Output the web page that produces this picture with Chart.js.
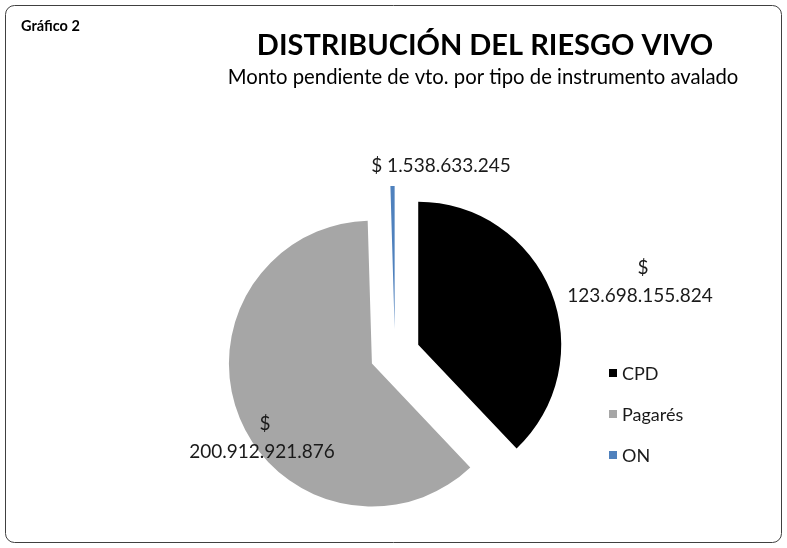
<!DOCTYPE html>
<html>
<head>
<meta charset="utf-8">
<script src="https://cdn.jsdelivr.net/npm/chart.js@4.4.1/dist/chart.umd.min.js"></script>
<style>
  html, body { margin: 0; padding: 0; background: #fff; }
  #wrap { position: relative; width: 787px; height: 548px; }
</style>
</head>
<body>
<div id="wrap"><canvas id="grafico"></canvas></div>
<script>
// datos del gráfico
var categorias = ['CPD', 'Pagarés', 'ON'];
var montos = [123698155824, 200912921876, 1538633245];
var colores = ['#000000', '#A6A6A6', '#4F81BD'];

var titulo = 'DISTRIBUCIÓN DEL RIESGO VIVO';
var subtitulo = 'Monto pendiente de vto. por tipo de instrumento avalado';
var rotulo = 'Gráfico 2';

var FUENTE = 'Lato, "Open Sans", sans-serif';
var SEPARACION = 25; // cuanto se separa cada porcion del centro

function formatoPesos(v) {
	return String(v).replace(/\B(?=(\d{3})+(?!\d))/g, '.');
}

// donde va cada etiqueta (lineas: '$' y el monto)
var posEtiquetas = [
	{ x: 640, y: 268, dos: true },
	{ x: 262, y: 424, dos: true },
	{ x: 441, y: 166, dos: false }
];

// separa las porciones (como el "explode" de excel) sin achicar el angulo
var separar = {
	id: 'separar',
	afterDatasetsUpdate: function(chart) {
		var arcos = chart.getDatasetMeta(0).data;
		arcos.forEach(function(a) {
			var medio = (a.startAngle + a.endAngle) / 2;
			a.x += Math.cos(medio) * SEPARACION;
			a.y += Math.sin(medio) * SEPARACION;
		});
	}
};

var decorado = {
	id: 'decorado',
	afterDraw: function(chart) {
		var ctx = chart.ctx;
		ctx.save();

		// marco
		ctx.strokeStyle = '#404040';
		ctx.lineWidth = 1;
		ctx.beginPath();
		ctx.roundRect(5.5, 5.5, 776, 537, 9);
		ctx.stroke();

		ctx.fillStyle = '#000';
		ctx.textBaseline = 'middle';

		ctx.textAlign = 'left';
		ctx.font = 'bold 14.5px ' + FUENTE;
		ctx.fillText(rotulo, 21, 26);

		ctx.textAlign = 'center';
		ctx.font = 'bold 29px ' + FUENTE;
		ctx.fillText(titulo, 485, 46);

		ctx.font = '20.3px ' + FUENTE;
		ctx.fillText(subtitulo, 483, 77);

		// etiquetas de valores
		ctx.font = '19px ' + FUENTE;
		ctx.fillStyle = '#1a1a1a';
		montos.forEach(function(v, i) {
			var p = posEtiquetas[i];
			if (p.dos) {
				ctx.fillText('$', p.x + 3, p.y);
				ctx.fillText(formatoPesos(v), p.x, p.y + 28);
			} else {
				ctx.fillText('$ ' + formatoPesos(v), p.x, p.y);
			}
		});

		// leyenda
		ctx.textAlign = 'left';
		ctx.font = '18px ' + FUENTE;
		categorias.forEach(function(c, i) {
			var y = 373 + i * 41;
			ctx.fillStyle = colores[i];
			ctx.fillRect(609, y - 4, 8, 8);
			ctx.fillStyle = '#1a1a1a';
			ctx.fillText(c, 622, y + 1);
		});

		ctx.restore();
	}
};

var ctx = document.getElementById('grafico');

var grafico = new Chart(ctx, {
	type: 'pie',
	data: {
		labels: categorias,
		datasets: [{
			data: montos,
			backgroundColor: colores,
			borderWidth: 0,
			offset: 0,
			hoverOffset: 0
		}]
	},
	options: {
		responsive: true,
		maintainAspectRatio: false,
		animation: false,
		events: [],
		layout: {
			padding: { top: 211, bottom: 51, left: 252, right: 249 }
		},
		plugins: {
			legend: { display: false },
			title: { display: false },
			tooltip: { enabled: false }
		}
	},
	plugins: [separar, decorado]
});
</script>
</body>
</html>
